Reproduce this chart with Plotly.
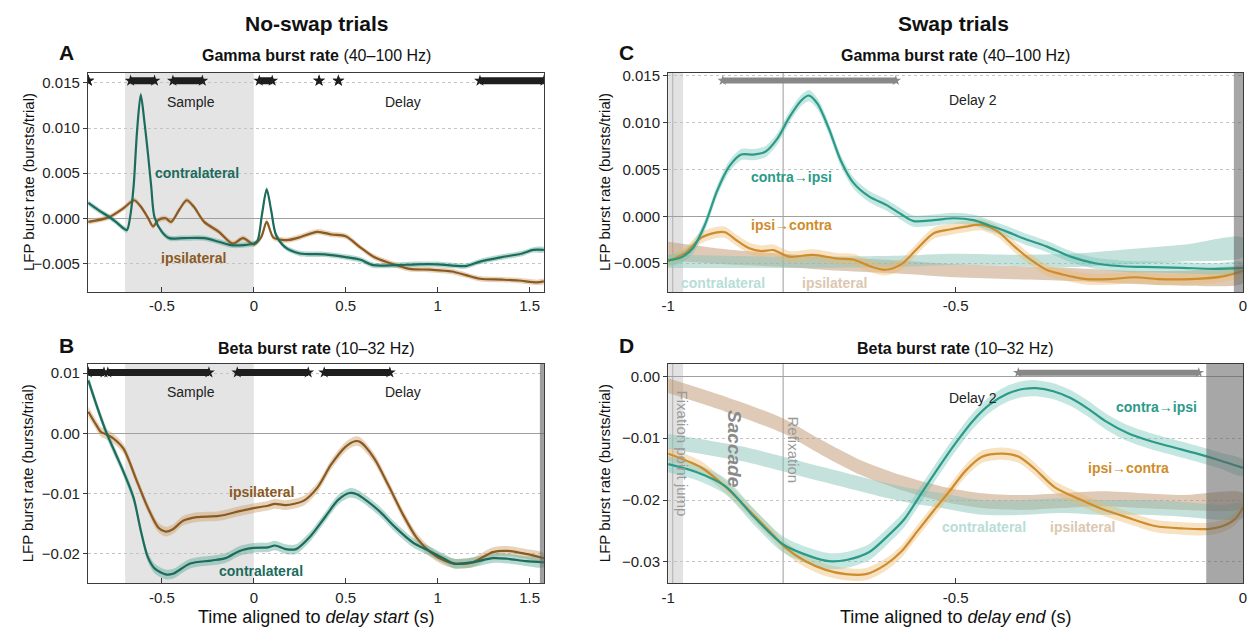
import plotly.graph_objects as go

FONT = "Liberation Sans, Arial, sans-serif"
W, H = 1252, 631

# ---------------- data ----------------
# Panel A: gamma, no-swap (time aligned to delay start)
A_contra_t = [-0.9, -0.845, -0.79, -0.75, -0.71, -0.69, -0.673, -0.654, -0.635, -0.615, -0.595, -0.575,
              -0.558, -0.54, -0.5, -0.46, -0.385, -0.27, -0.19, -0.115, 0.0, 0.02, 0.045, 0.07, 0.095,
              0.12, 0.17, 0.25, 0.385, 0.5, 0.58, 0.65, 0.77, 0.885, 1.0, 1.15, 1.23, 1.35, 1.46, 1.52, 1.578]
A_contra = [0.0017, 0.0009, 0.0002, -0.0004, -0.0011, -0.0013, 0.0001, 0.0035, 0.0097, 0.0137, 0.0107,
            0.0070, 0.0035, 0.0001, -0.0015, -0.0022, -0.0022, -0.0022, -0.0026, -0.0030, -0.0028,
            -0.0025, 0.0005, 0.0032, 0.0008, -0.0018, -0.0032, -0.0039, -0.0040, -0.0043, -0.0046,
            -0.0052, -0.0052, -0.0051, -0.0051, -0.0053, -0.0048, -0.0043, -0.0039, -0.0035, -0.0035]
A_ipsi_t = [-0.9, -0.79, -0.71, -0.65, -0.615, -0.577, -0.548, -0.52, -0.48, -0.45, -0.404, -0.365, -0.327,
            -0.27, -0.19, -0.115, -0.058, 0.0, 0.04, 0.07, 0.105, 0.155, 0.19, 0.25, 0.346, 0.423, 0.5,
            0.577, 0.654, 0.73, 0.846, 0.96, 1.077, 1.154, 1.23, 1.35, 1.44, 1.54, 1.578]
A_ipsi = [-0.0004, 0.0001, 0.0011, 0.0020, 0.0013, 0.0001, -0.0009, -0.0002, 0.0000, -0.0004, 0.0010,
          0.0020, 0.0013, -0.0004, -0.0015, -0.0028, -0.0022, -0.0029, -0.0021, -0.0004, -0.0021,
          -0.0024, -0.0024, -0.0021, -0.0015, -0.0018, -0.0020, -0.0032, -0.0043, -0.0049, -0.0056,
          -0.0057, -0.0059, -0.0063, -0.0067, -0.0068, -0.0069, -0.0071, -0.0070]
A_sem = 0.0003
A_sig_start = [-0.9, -0.67, -0.44, 0.03, 0.355, 0.46, 1.23]
A_sig_end = [-0.9, -0.54, -0.28, 0.10, 0.355, 0.46, 1.578]

# Panel B: beta, no-swap
B_contra_t = [-0.9, -0.85, -0.8, -0.75, -0.71, -0.654, -0.615, -0.577, -0.54, -0.48, -0.44, -0.346, -0.23,
              -0.154, -0.077, 0.0, 0.077, 0.115, 0.173, 0.23, 0.31, 0.385, 0.46, 0.52, 0.56, 0.615, 0.69,
              0.77, 0.865, 0.96, 1.035, 1.09, 1.19, 1.3, 1.38, 1.48, 1.578]
B_contra = [0.0088, 0.0042, 0.0000, -0.0035, -0.0063, -0.0107, -0.0161, -0.0205, -0.0224, -0.0234, -0.0233,
            -0.0216, -0.0211, -0.0207, -0.0195, -0.0190, -0.0189, -0.0186, -0.0192, -0.0192, -0.0170,
            -0.0140, -0.0110, -0.0099, -0.0101, -0.0112, -0.0131, -0.0156, -0.0181, -0.0196, -0.0208,
            -0.0216, -0.0214, -0.0207, -0.0208, -0.0212, -0.0214]
B_ipsi_t = [-0.9, -0.857, -0.83, -0.8, -0.77, -0.71, -0.635, -0.577, -0.52, -0.48, -0.44, -0.385, -0.31,
            -0.19, -0.077, 0.0, 0.077, 0.115, 0.173, 0.27, 0.346, 0.42, 0.5, 0.55, 0.577, 0.654, 0.73, 0.81,
            0.885, 0.96, 1.035, 1.09, 1.19, 1.3, 1.38, 1.48, 1.578]
B_ipsi = [0.0036, 0.0014, 0.0002, -0.0002, -0.0007, -0.0025, -0.0080, -0.0123, -0.0156, -0.0163, -0.0159,
          -0.0145, -0.0139, -0.0137, -0.0129, -0.0124, -0.0120, -0.0117, -0.0119, -0.0112, -0.0090,
          -0.0052, -0.0022, -0.0013, -0.0014, -0.0041, -0.0085, -0.0134, -0.0173, -0.0197, -0.0211,
          -0.0216, -0.0214, -0.0197, -0.0195, -0.0200, -0.0207]
B_sem = 0.0008
B_sig_start = [-0.9, -0.794, -0.09, 0.383]
B_sig_end = [-0.815, -0.244, 0.296, 0.74]

# Panel C: gamma, swap (time aligned to delay end)
C_ci_t = [-1.0, -0.978, -0.957, -0.936, -0.915, -0.894, -0.873, -0.852, -0.831, -0.81, -0.789, -0.768,
          -0.755, -0.74, -0.72, -0.7, -0.678, -0.65, -0.62, -0.594, -0.573, -0.538, -0.503, -0.469, -0.44,
          -0.412, -0.384, -0.342, -0.3, -0.258, -0.216, -0.174, -0.105, -0.049, 0.0]
C_ci = [-0.0047, -0.0044, -0.0034, -0.0009, 0.0027, 0.0053, 0.0066, 0.0066, 0.0069, 0.0083, 0.0106, 0.0124,
        0.0129, 0.0120, 0.0093, 0.0060, 0.0036, 0.0021, 0.0012, 0.0002, -0.0005, -0.0004, -0.0002,
        -0.0004, -0.0010, -0.0016, -0.0023, -0.0032, -0.0043, -0.0050, -0.0053, -0.0054, -0.0055,
        -0.0056, -0.0055]
C_ic_t = [-1.0, -0.97, -0.943, -0.915, -0.901, -0.88, -0.859, -0.838, -0.817, -0.789, -0.748, -0.706,
          -0.678, -0.65, -0.622, -0.594, -0.566, -0.538, -0.51, -0.483, -0.455, -0.427, -0.398, -0.37,
          -0.342, -0.314, -0.272, -0.23, -0.189, -0.147, -0.091, -0.035, 0.0]
C_ic = [-0.0048, -0.0039, -0.0023, -0.0017, -0.0017, -0.0026, -0.0034, -0.0037, -0.0036, -0.0043, -0.0041,
        -0.0045, -0.0046, -0.0053, -0.0057, -0.0051, -0.0034, -0.0018, -0.0014, -0.0011, -0.0009,
        -0.0016, -0.0032, -0.0046, -0.0057, -0.0062, -0.0067, -0.0067, -0.0065, -0.0067, -0.0067,
        -0.0064, -0.0058]
C_sem = 0.0006
C_bgc_t = [-1.0, -0.8, -0.6, -0.5, -0.4, -0.3, -0.2, -0.1, 0.0]
C_bgc = [-0.0048, -0.0049, -0.0048, -0.0046, -0.0047, -0.0047, -0.0043, -0.0039, -0.0033]
C_bgc_sem = [0.0007, 0.0006, 0.0006, 0.0006, 0.0006, 0.0007, 0.0008, 0.0009, 0.0010]
C_bgi_t = [-1.0, -0.9, -0.8, -0.7, -0.6, -0.5, -0.4, -0.3, -0.2, -0.1, 0.0]
C_bgi = [-0.0037, -0.0043, -0.0047, -0.0051, -0.0054, -0.0058, -0.0060, -0.0062, -0.0065, -0.0066, -0.0063]
C_bgi_sem = [0.0010, 0.0008, 0.0007, 0.0007, 0.0007, 0.0007, 0.0007, 0.0007, 0.0007, 0.0008, 0.0008]
C_sig_start = [-0.905]
C_sig_end = [-0.604]

# Panel D: beta, swap
D_ci_t = [-1.0, -0.95, -0.9, -0.85, -0.8, -0.75, -0.72, -0.69, -0.65, -0.62, -0.59, -0.56, -0.53, -0.5,
          -0.47, -0.44, -0.41, -0.38, -0.36, -0.33, -0.3, -0.27, -0.24, -0.2, -0.16, -0.12, -0.08, -0.04, 0.0]
D_ci = [-0.0142, -0.0155, -0.0178, -0.0228, -0.0272, -0.0292, -0.0299, -0.0297, -0.0284, -0.0260,
        -0.0232, -0.0190, -0.0148, -0.0108, -0.0072, -0.0045, -0.0028, -0.0020, -0.0019, -0.0024,
        -0.0035, -0.0052, -0.0072, -0.0092, -0.0105, -0.0115, -0.0125, -0.0136, -0.0148]
D_ic_t = [-1.0, -0.943, -0.9, -0.859, -0.824, -0.796, -0.761, -0.726, -0.691, -0.656, -0.621, -0.594,
          -0.566, -0.538, -0.51, -0.482, -0.454, -0.419, -0.39, -0.363, -0.328, -0.286, -0.244, -0.202,
          -0.153, -0.105, -0.063, -0.035, -0.014, 0.0]
D_ic = [-0.0125, -0.0147, -0.0179, -0.0217, -0.0250, -0.0277, -0.0299, -0.0313, -0.0320, -0.0320,
        -0.0304, -0.0283, -0.0250, -0.0217, -0.0185, -0.0152, -0.0130, -0.0125, -0.0130, -0.0149,
        -0.0179, -0.0198, -0.0215, -0.0228, -0.0242, -0.0246, -0.0247, -0.0242, -0.0231, -0.0212]
D_ci_sem = 0.0013
D_ic_sem = 0.0010
D_bgc_t = [-1.0, -0.873, -0.733, -0.594, -0.524, -0.455, -0.385, -0.315, -0.245, -0.175, -0.105, -0.035, 0.0]
D_bgc = [-0.0105, -0.0125, -0.0158, -0.0190, -0.0201, -0.0212, -0.0212, -0.0209, -0.0212, -0.0212,
         -0.0215, -0.0220, -0.0217]
D_bgi_t = [-1.0, -0.9, -0.8, -0.733, -0.664, -0.594, -0.524, -0.455, -0.385, -0.315, -0.245, -0.175, -0.105, 0.0]
D_bgi = [-0.0015, -0.0045, -0.0080, -0.0115, -0.0148, -0.0172, -0.0190, -0.0201, -0.0204, -0.0201,
         -0.0198, -0.0201, -0.0204, -0.0201]
D_bg_sem = 0.0012
D_sig_start = [-0.391]
D_sig_end = [-0.077]

# tick labels
A_yticks = [0.015, 0.010, 0.005, 0.0, -0.005]
A_yticktext = ["0.015", "0.010", "0.005", "0.000", "\u22120.005"]
B_yticks = [0.01, 0.0, -0.01, -0.02]
B_yticktext = ["0.01", "0.00", "\u22120.01", "\u22120.02"]
D_yticks = [0.0, -0.01, -0.02, -0.03]
D_yticktext = ["0.00", "\u22120.01", "\u22120.02", "\u22120.03"]
AB_xticks = [-0.5, 0, 0.5, 1, 1.5]
AB_xticktext = ["-0.5", "0", "0.5", "1", "1.5"]
CD_xticks = [-1, -0.5, 0]
CD_xticktext = ["-1", "-0.5", "0"]

# ---------------- colours ----------------
DK_TEAL = "#1c6b5c"
BROWN = "#8a5a22"
TEAL = "#2c9a89"
ORANGE = "#cf8c2c"

fig = go.Figure()

AX = {"A": ("x", "y"), "B": ("x2", "y2"), "C": ("x3", "y3"), "D": ("x4", "y4")}


def band(p, t, y, sem, fill):
    xa, ya = AX[p]
    s = sem if isinstance(sem, list) else [sem] * len(y)
    up = [a + b for a, b in zip(y, s)]
    lo = [a - b for a, b in zip(y, s)]
    fig.add_trace(go.Scatter(x=list(t) + list(t)[::-1], y=up + lo[::-1], mode="lines",
                             fill="toself", fillcolor=fill, line=dict(width=0, shape="spline", smoothing=0.8),
                             hoverinfo="skip", showlegend=False, xaxis=xa, yaxis=ya))


def line(p, t, y, color, w=2.2):
    xa, ya = AX[p]
    fig.add_trace(go.Scatter(x=t, y=y, mode="lines", line=dict(color=color, width=w, shape="spline", smoothing=0.8),
                             hoverinfo="skip", showlegend=False, xaxis=xa, yaxis=ya))


def sig(p, starts, ends, level, color, w=7, msize=9):
    xa, ya = AX[p]
    for s, e in zip(starts, ends):
        fig.add_trace(go.Scatter(x=[s, e], y=[level, level], mode="lines+markers",
                                 line=dict(color=color, width=w),
                                 marker=dict(symbol="star", size=msize, color=color, line=dict(width=0)),
                                 hoverinfo="skip", showlegend=False, xaxis=xa, yaxis=ya, cliponaxis=True))


# Panel A
band("A", A_ipsi_t, A_ipsi, A_sem, "rgba(205,160,105,0.45)")
band("A", A_contra_t, A_contra, A_sem, "rgba(90,170,150,0.45)")
line("A", A_ipsi_t, A_ipsi, BROWN)
line("A", A_contra_t, A_contra, DK_TEAL)
sig("A", A_sig_start, A_sig_end, 0.01525, "#1e1e1e")

# Panel B
band("B", B_ipsi_t, B_ipsi, B_sem, "rgba(205,160,105,0.45)")
band("B", B_contra_t, B_contra, B_sem, "rgba(90,170,150,0.45)")
line("B", B_ipsi_t, B_ipsi, BROWN)
line("B", B_contra_t, B_contra, DK_TEAL)
sig("B", B_sig_start, B_sig_end, 0.0101, "#1e1e1e")

# Panel C
band("C", C_bgi_t, C_bgi, C_bgi_sem, "rgba(190,150,110,0.5)")
band("C", C_bgc_t, C_bgc, C_bgc_sem, "rgba(140,195,185,0.5)")
band("C", C_ic_t, C_ic, C_sem, "rgba(235,185,105,0.4)")
band("C", C_ci_t, C_ci, C_sem, "rgba(110,195,180,0.4)")
line("C", C_ic_t, C_ic, ORANGE)
line("C", C_ci_t, C_ci, TEAL)
sig("C", C_sig_start, C_sig_end, 0.0145, "#888888", w=6, msize=8)

# Panel D
band("D", D_bgi_t, D_bgi, D_bg_sem, "rgba(190,150,110,0.5)")
band("D", D_bgc_t, D_bgc, D_bg_sem, "rgba(140,195,185,0.5)")
band("D", D_ic_t, D_ic, D_ic_sem, "rgba(235,185,105,0.4)")
band("D", D_ci_t, D_ci, D_ci_sem, "rgba(110,195,180,0.4)")
line("D", D_ic_t, D_ic, ORANGE)
line("D", D_ci_t, D_ci, TEAL)
sig("D", D_sig_start, D_sig_end, 0.0006, "#888888", w=6, msize=8)


# ---------------- axes ----------------
def px_dom_x(a, b):
    return [a / W, b / W]


def px_dom_y(top, bottom):
    return [1 - bottom / H, 1 - top / H]


tickfont = dict(family=FONT, size=15, color="#222")


def xax(dom, rng, tv, tt, anchor):
    return dict(domain=dom, range=rng, anchor=anchor, tickvals=tv, ticktext=tt, showgrid=False,
                zeroline=False, showline=True, mirror=True, linecolor="#3a3a3a", linewidth=1.3,
                ticks="inside", ticklen=5, tickcolor="#3a3a3a", tickfont=tickfont, fixedrange=True)


def yax(dom, rng, tv, tt, anchor):
    return dict(domain=dom, range=rng, anchor=anchor, tickvals=tv, ticktext=tt, showgrid=True,
                gridcolor="#c4c4c4", griddash="dot", gridwidth=1, zeroline=True, zerolinecolor="#a0a0a0",
                zerolinewidth=1.2, showline=True, mirror=True, linecolor="#3a3a3a", linewidth=1.3,
                ticks="outside", ticklen=4, tickcolor="#3a3a3a", tickfont=tickfont, fixedrange=True)


AB_X = px_dom_x(81.7, 541.7)
CD_X = px_dom_x(667, 1247)
TOP_Y = px_dom_y(67.7, 289)
BOT_Y = px_dom_y(361.5, 583)
AB_RANGE = [-0.902, 1.578]
CD_RANGE = [-1.0, 0.0]

fig.update_layout(
    width=W, height=H, margin=dict(l=0, r=0, t=0, b=0),
    paper_bgcolor="white", plot_bgcolor="white", showlegend=False,
    font=dict(family=FONT, color="#222"),
    xaxis=xax(AB_X, AB_RANGE, AB_xticks, AB_xticktext, "y"),
    yaxis=yax(TOP_Y, [-0.0082, 0.0161], A_yticks, A_yticktext, "x"),
    xaxis2=xax(AB_X, AB_RANGE, AB_xticks, AB_xticktext, "y2"),
    yaxis2=yax(BOT_Y, [-0.0249, 0.0115], B_yticks, B_yticktext, "x2"),
    xaxis3=xax(CD_X, CD_RANGE, CD_xticks, CD_xticktext, "y3"),
    yaxis3=yax(TOP_Y, [-0.0081, 0.0153], A_yticks, A_yticktext, "x3"),
    xaxis4=xax(CD_X, CD_RANGE, CD_xticks, CD_xticktext, "y4"),
    yaxis4=yax(BOT_Y, [-0.0335, 0.002], D_yticks, D_yticktext, "x4"),
)

# ---------------- shapes ----------------
shapes = []


def vrect(xr, yr, x0, x1, color, layer="below"):
    shapes.append(dict(type="rect", xref=xr, yref=yr + " domain", x0=x0, x1=x1, y0=0, y1=1,
                       fillcolor=color, line=dict(width=0), layer=layer))


def vline(xr, yr, x, color, w=1):
    shapes.append(dict(type="line", xref=xr, yref=yr + " domain", x0=x, x1=x, y0=0, y1=1,
                       line=dict(color=color, width=w), layer="below"))


vrect("x", "y", -0.7, 0, "#e4e4e4")
vrect("x2", "y2", -0.7, 0, "#e4e4e4")
vrect("x2", "y2", 1.556, 1.578, "rgba(95,95,95,0.6)", layer="above")
for xr, yr in (("x3", "y3"), ("x4", "y4")):
    vrect(xr, yr, -1.0, -0.974, "#e2e2e2")
    vline(xr, yr, -0.992, "#b0b0b0")
    vline(xr, yr, -0.8, "#9a9a9a")
vrect("x3", "y3", -0.016, 0.0, "rgba(95,95,95,0.55)", layer="above")
vrect("x4", "y4", -0.064, 0.0, "rgba(95,95,95,0.55)", layer="above")
fig.update_layout(shapes=shapes)

# ---------------- annotations ----------------
ann = []


def ptxt(x, y, text, size, bold=False, angle=0, color="#111", xanchor="center"):
    t = "<b>%s</b>" % text if bold else text
    ann.append(dict(xref="paper", yref="paper", x=x / W, y=1 - y / H, text=t, showarrow=False,
                    font=dict(family=FONT, size=size, color=color), textangle=angle,
                    xanchor=xanchor, yanchor="middle"))


def dtxt(p, x, y, text, size, color, bold=False, angle=0, italic=False):
    xa, ya = AX[p]
    t = text
    if italic:
        t = "<i>%s</i>" % t
    if bold:
        t = "<b>%s</b>" % t
    ann.append(dict(xref=xa, yref=ya, x=x, y=y, text=t, showarrow=False,
                    font=dict(family=FONT, size=size, color=color), textangle=angle,
                    xanchor="center", yanchor="middle"))


ptxt(313, 18, "No-swap trials", 21, bold=True)
ptxt(955, 18, "Swap trials", 21, bold=True)
ptxt(60, 47, "A", 21, bold=True)
ptxt(625, 47, "C", 21, bold=True)
ptxt(60, 343, "B", 21, bold=True)
ptxt(625, 343, "D", 21, bold=True)
ptxt(312, 50, "<b>Gamma burst rate</b> (40\u2013100 Hz)", 16)
ptxt(957, 50, "<b>Gamma burst rate</b> (40\u2013100 Hz)", 16)
ptxt(312, 346, "<b>Beta burst rate</b> (10\u201332 Hz)", 16)
ptxt(957, 346, "<b>Beta burst rate</b> (10\u201332 Hz)", 16)
for yy in (178, 472):
    ptxt(21, yy, "LFP burst rate (bursts/trial)", 15, angle=-90)
    ptxt(603, yy, "LFP burst rate (bursts/trial)", 15, angle=-90)
ptxt(312, 617, "Time aligned to <i>delay start</i> (s)", 18)
ptxt(957, 617, "Time aligned to <i>delay end</i> (s)", 18)

# in-panel labels
dtxt("A", -0.34, 0.0129, "Sample", 14, "#222")
dtxt("A", 0.81, 0.0129, "Delay", 14, "#222")
dtxt("B", -0.34, 0.0068, "Sample", 14, "#222")
dtxt("B", 0.81, 0.0068, "Delay", 14, "#222")
dtxt("C", -0.47, 0.0124, "Delay 2", 14, "#222")
dtxt("D", -0.47, -0.0035, "Delay 2", 14, "#222")

dtxt("A", -0.31, 0.0050, "contralateral", 14, DK_TEAL, bold=True)
dtxt("A", -0.33, -0.0044, "ipsilateral", 14, BROWN, bold=True)
dtxt("B", 0.04, -0.0097, "ipsilateral", 14, BROWN, bold=True)
dtxt("B", 0.04, -0.0229, "contralateral", 14, DK_TEAL, bold=True)

dtxt("C", -0.785, 0.0042, "contra\u2192ipsi", 14, TEAL, bold=True)
dtxt("C", -0.785, -0.0009, "ipsi\u2192contra", 14, ORANGE, bold=True)
dtxt("C", -0.905, -0.0071, "contralateral", 14, "#b8ddd6", bold=True)
dtxt("C", -0.71, -0.0071, "ipsilateral", 14, "#dcc7b0", bold=True)

dtxt("D", -0.15, -0.0050, "contra\u2192ipsi", 14, TEAL, bold=True)
dtxt("D", -0.2, -0.0148, "ipsi\u2192contra", 14, ORANGE, bold=True)
dtxt("D", -0.45, -0.0243, "contralateral", 14, "#b8ddd6", bold=True)
dtxt("D", -0.28, -0.0243, "ipsilateral", 14, "#dcc7b0", bold=True)

dtxt("D", -0.975, -0.0124, "Fixation point jump", 15, "#9a9a9a", angle=90)
dtxt("D", -0.885, -0.0118, "Saccade", 19, "#8a8a8a", bold=True, italic=True, angle=90)
dtxt("D", -0.782, -0.0119, "Refixation", 15, "#9a9a9a", angle=90)

fig.update_layout(annotations=ann)

fig.write_html("out.html")
